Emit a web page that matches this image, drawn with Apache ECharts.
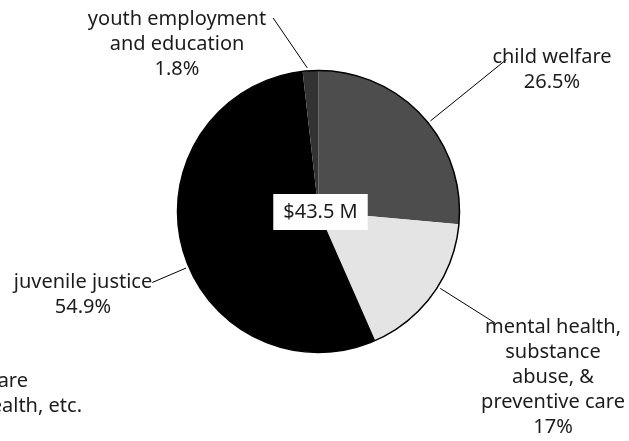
<!DOCTYPE html>
<html>
<head>
<meta charset="utf-8">
<script src="https://cdn.jsdelivr.net/npm/echarts@6/dist/echarts.min.js"></script>
<style>
  html, body { margin: 0; padding: 0; background: #ffffff; }
  #chart { width: 629px; height: 441px; }
</style>
</head>
<body>
<div id="chart"></div>
<script>
// Budget split by program area (percent of total)
const categories = [
  'child welfare',
  'mental health,\nsubstance\nabuse, &\npreventive care',
  'juvenile justice',
  'youth employment\nand education'
];
const shares = [26.5, 17, 54.9, 1.8];
const totalLabel = '$43.5 M';
const legendFragments = ['child welfare', 'mental health, etc.'];

// ---- styling / layout ----
const sliceColors = ['#4d4d4d', '#e4e4e4', '#000000', '#333333'];
const TEXT = '#1c1c1c';
const FONT_FAMILY = '"Noto Sans", "Open Sans", sans-serif';
const FONT_SIZE = 20;
const LINE_H = 25;
const CX = 318.5, CY = 211.5, R = 141;

// label block centres; leader lines meet the first line of each label
const labelSpots = [
  { x: 552, y: 70,  side: 'left',  dx: 14, dy: 2 },
  { x: 553, y: 377, side: 'left',  dx: 14, dy: -4 },
  { x: 83,  y: 295, side: 'right', dx: 0,  dy: 0 },
  { x: 177, y: 44,  side: 'right', dx: 7,  dy: -1 }
];

// slice angles, clockwise from 12 o'clock, in degrees
const total = shares.reduce((a, b) => a + b, 0);
const sliceAngles = [];
shares.reduce((acc, v) => {
  const start = acc, end = acc + v / total * 360;
  sliceAngles.push([start, end]);
  return end;
}, 0);

function pointAt(deg, r) {
  const a = deg * Math.PI / 180;
  return [CX + r * Math.sin(a), CY - r * Math.cos(a)];
}

const chart = echarts.init(document.getElementById('chart'), null, { renderer: 'canvas' });

chart.setOption({
  animation: false,
  backgroundColor: '#ffffff',
  series: [
    {
      type: 'pie',
      center: [CX, CY],
      radius: [0, R],
      startAngle: 90,
      clockwise: true,
      avoidLabelOverlap: false,
      silent: true,
      data: categories.map((name, i) => ({
        name: name,
        value: shares[i],
        itemStyle: { color: sliceColors[i] }
      })),
      itemStyle: { borderWidth: 0 },
      label: {
        show: true,
        position: 'outside',
        formatter: '{b}\n{c}%',
        color: TEXT,
        fontFamily: FONT_FAMILY,
        fontSize: FONT_SIZE,
        lineHeight: LINE_H,
        align: 'center'
      },
      labelLine: {
        show: true,
        length: 10,
        length2: 0,
        lineStyle: { color: '#000000', width: 1 }
      },
      labelLayout: function (params) {
        const i = params.dataIndex;
        const spot = labelSpots[i];
        const w = params.labelRect.width;
        const h = params.labelRect.height;
        const left = spot.x - w / 2;
        const top = spot.y - h / 2;
        const end = [
          (spot.side === 'left' ? left : left + w) + spot.dx,
          top + LINE_H / 2 + spot.dy
        ];
        // leader starts on the rim, aimed at the label, kept inside its slice
        let ang = Math.atan2(end[0] - CX, -(end[1] - CY)) * 180 / Math.PI;
        if (ang < 0) ang += 360;
        const s = sliceAngles[i][0], e = sliceAngles[i][1];
        const m = Math.min(2, (e - s) / 2);
        ang = Math.max(s + m, Math.min(e - m, ang));
        const start = pointAt(ang, R + 3);
        return {
          x: spot.x,
          y: spot.y,
          align: 'center',
          verticalAlign: 'middle',
          labelLinePoints: [start, start, end]
        };
      },
      z: 2
    },
    {
      // rim outline of the pie
      type: 'pie',
      center: [CX, CY],
      radius: [0, R],
      silent: true,
      label: { show: false },
      labelLine: { show: false },
      data: [{ value: 1, itemStyle: { color: 'rgba(0,0,0,0)', borderColor: '#000000', borderWidth: 1.5 } }],
      z: 3
    }
  ],
  graphic: [
    {
      type: 'text',
      x: CX + 2,
      y: CY + 0.5,
      z: 10,
      style: {
        text: totalLabel,
        font: FONT_SIZE + 'px ' + FONT_FAMILY,
        fill: TEXT,
        align: 'center',
        verticalAlign: 'middle',
        backgroundColor: '#ffffff',
        padding: [6, 10],
        lineHeight: 24
      }
    },
    {
      type: 'text',
      x: 28,
      y: 381,
      style: {
        text: legendFragments[0],
        font: FONT_SIZE + 'px ' + FONT_FAMILY,
        fill: TEXT,
        align: 'right',
        verticalAlign: 'middle'
      }
    },
    {
      type: 'text',
      x: 82,
      y: 406,
      style: {
        text: legendFragments[1],
        font: FONT_SIZE + 'px ' + FONT_FAMILY,
        fill: TEXT,
        align: 'right',
        verticalAlign: 'middle'
      }
    }
  ]
});
</script>
</body>
</html>
